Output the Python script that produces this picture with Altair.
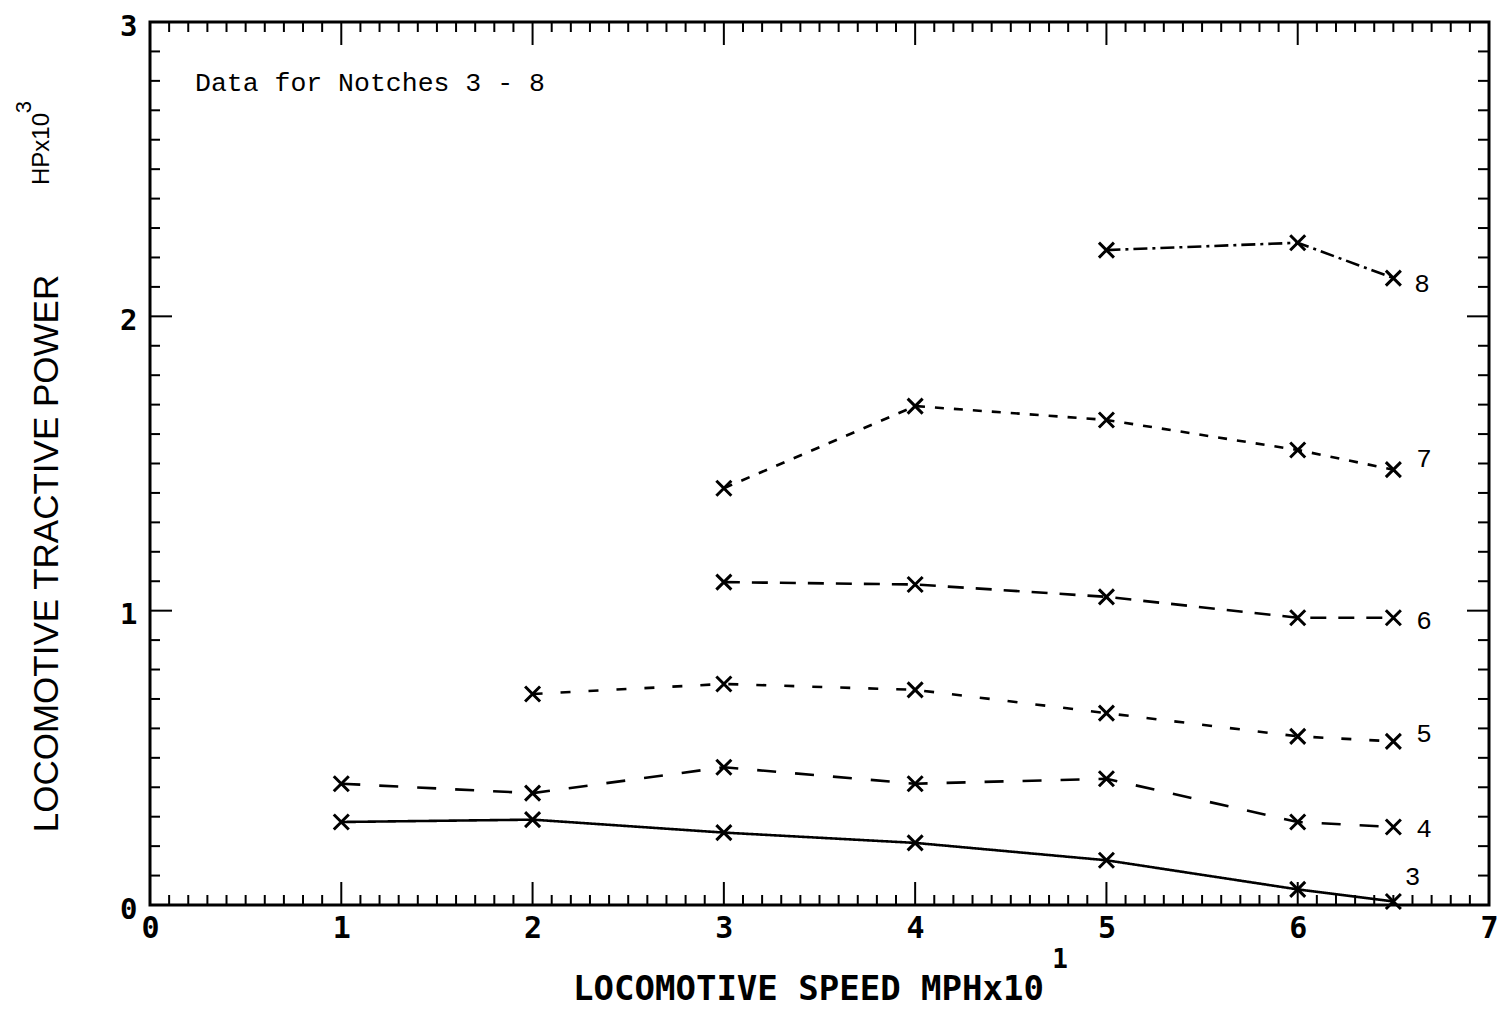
import altair as alt
import pandas as pd

# ---- data ----
notches = ["3", "4", "5", "6", "7", "8"]
speed_3 = [1, 2, 3, 4, 5, 6, 6.5]
power_3 = [0.282, 0.290, 0.246, 0.211, 0.152, 0.053, 0.012]
speed_4 = [1, 2, 3, 4, 5, 6, 6.5]
power_4 = [0.412, 0.380, 0.468, 0.412, 0.429, 0.282, 0.265]
speed_5 = [2, 3, 4, 5, 6, 6.5]
power_5 = [0.717, 0.751, 0.731, 0.652, 0.573, 0.556]
speed_6 = [3, 4, 5, 6, 6.5]
power_6 = [1.097, 1.089, 1.047, 0.976, 0.976]
speed_7 = [3, 4, 5, 6, 6.5]
power_7 = [1.416, 1.695, 1.648, 1.546, 1.479]
speed_8 = [5, 6, 6.5]
power_8 = [2.225, 2.250, 2.130]

label_x = [6.60, 6.66, 6.66, 6.66, 6.66, 6.65]
label_y = [0.095, 0.257, 0.582, 0.965, 1.514, 2.110]

x_major = [0, 1, 2, 3, 4, 5, 6, 7]
y_major = [0, 1, 2, 3]
x_minor = [round(i * 0.1, 1) for i in range(1, 70) if i % 10 != 0]
x_inner_major = [1, 2, 3, 4, 5, 6]
y_minor = [round(i * 0.1, 1) for i in range(1, 30) if i % 10 != 0]
y_inner_major = [1, 2]

W, H = 1339, 883

series = {
    "3": (speed_3, power_3), "4": (speed_4, power_4), "5": (speed_5, power_5),
    "6": (speed_6, power_6), "7": (speed_7, power_7), "8": (speed_8, power_8),
}
rows = []
for n, (xs, ys) in series.items():
    for i, (xv, yv) in enumerate(zip(xs, ys)):
        rows.append({"notch": n, "x": xv, "y": yv, "i": i})
df = pd.DataFrame(rows)
lab = pd.DataFrame({"notch": notches, "x": label_x, "y": label_y})

xscale = alt.Scale(domain=[0, 7], nice=False, zero=False)
yscale = alt.Scale(domain=[0, 3], nice=False, zero=False)

X_TITLE = "LOCOMOTIVE SPEED MPHx10"
Y_TITLE = "LOCOMOTIVE TRACTIVE POWER"

x_axis = alt.Axis(
    values=x_major, format="d", labelFont="DejaVu Sans Mono", labelFontSize=30,
    labelFontWeight="bold", labelColor="black", labelPadding=8, labelFlush=False,
    labelOverlap=False, ticks=False, domain=False, grid=False,
    titleFont="DejaVu Sans Mono", titleFontSize=34,
    titleFontWeight="bold", titleColor="black", titleX=658, titleY=94,
    titleBaseline="alphabetic", titleAlign="center", titleAnchor="start",
)
y_axis = alt.Axis(
    values=y_major, format="d", labelFont="DejaVu Sans Mono", labelFontSize=29,
    labelFontWeight="bold", labelColor="black", labelPadding=13, labelFlush=False,
    labelOverlap=False, labelOffset=4, ticks=False, domain=False, grid=False,
    titleFont="Liberation Sans", titleFontSize=35,
    titleFontWeight="normal", titleColor="black", titleAngle=270, titleX=-104,
    titleY=531, titleBaseline="middle", titleAlign="center", titleAnchor="start",
)


def X(field="x"):
    return alt.X(f"{field}:Q", scale=xscale, axis=x_axis, title=X_TITLE)


def Y(field="y"):
    return alt.Y(f"{field}:Q", scale=yscale, axis=y_axis, title=Y_TITLE)


dash_range = [[1, 0], [19, 19], [10, 18], [16, 12], [9, 10], [14, 5, 3, 5]]

lines = alt.Chart(df).mark_line(color="black", strokeWidth=2.6).encode(
    x=X(), y=Y(),
    strokeDash=alt.StrokeDash("notch:N", scale=alt.Scale(domain=notches, range=dash_range), legend=None),
    detail="notch:N",
    order="i:Q",
)

points = alt.Chart(df).mark_point(
    shape="M-1,-1L1,1M-1,1L1,-1", size=225, strokeWidth=3, color="black",
    filled=False, opacity=1,
).encode(x=X(), y=Y())

labels = alt.Chart(lab).mark_text(
    font="Liberation Mono", fontSize=26, color="black", align="center", baseline="middle"
).encode(x=X(), y=Y(), text="notch:N")


def xticks(vals, length, top):
    d = pd.DataFrame({"x": vals})
    if top:
        yv, y2v = alt.value(0), alt.value(length)
    else:
        yv, y2v = alt.value(H), alt.value(H - length)
    return alt.Chart(d).mark_rule(color="black", strokeWidth=2).encode(
        x=X(), y=yv, y2=y2v)


def yticks(vals, length, right):
    d = pd.DataFrame({"y": vals})
    if right:
        xv, x2v = alt.value(W), alt.value(W - length)
    else:
        xv, x2v = alt.value(0), alt.value(length)
    return alt.Chart(d).mark_rule(color="black", strokeWidth=2).encode(
        y=Y(), x=xv, x2=x2v)


ticks = [
    xticks(x_minor, 10, False), xticks(x_inner_major, 23, False),
    xticks(x_minor, 10, True), xticks(x_inner_major, 23, True),
    yticks(y_minor, 10, False), yticks(y_inner_major, 22, False),
    yticks(y_minor, 11, True), yticks(y_inner_major, 22, True),
]

note = alt.Chart(pd.DataFrame({"t": ["Data for Notches 3 - 8"]})).mark_text(
    font="Liberation Mono", fontSize=26.5, color="black", align="left", baseline="middle"
).encode(x=alt.value(45), y=alt.value(61), text="t:N")

sup_x = alt.Chart(pd.DataFrame({"t": ["1"]})).mark_text(
    font="DejaVu Sans Mono", fontSize=26, fontWeight="bold", color="black",
    align="center", baseline="middle"
).encode(x=alt.value(910), y=alt.value(938), text="t:N")

hp = alt.Chart(pd.DataFrame({"t": ["HPx10"]})).mark_text(
    font="Liberation Sans", fontSize=24, color="black", align="center",
    baseline="middle", angle=270
).encode(x=alt.value(-108), y=alt.value(127), text="t:N")

sup_y = alt.Chart(pd.DataFrame({"t": ["3"]})).mark_text(
    font="Liberation Sans", fontSize=22, color="black", align="center",
    baseline="middle", angle=270
).encode(x=alt.value(-126), y=alt.value(85), text="t:N")

chart = alt.layer(lines, points, labels, *ticks, note, sup_x, hp, sup_y).properties(
    width=W, height=H,
    background="white",
    padding={"left": 142, "top": 14, "right": 9, "bottom": 103},
    autosize=alt.AutoSizeParams(type="none"),
).configure_view(stroke="black", strokeWidth=3)

chart.save("out.html", embed_options={"renderer": "svg", "actions": False})
